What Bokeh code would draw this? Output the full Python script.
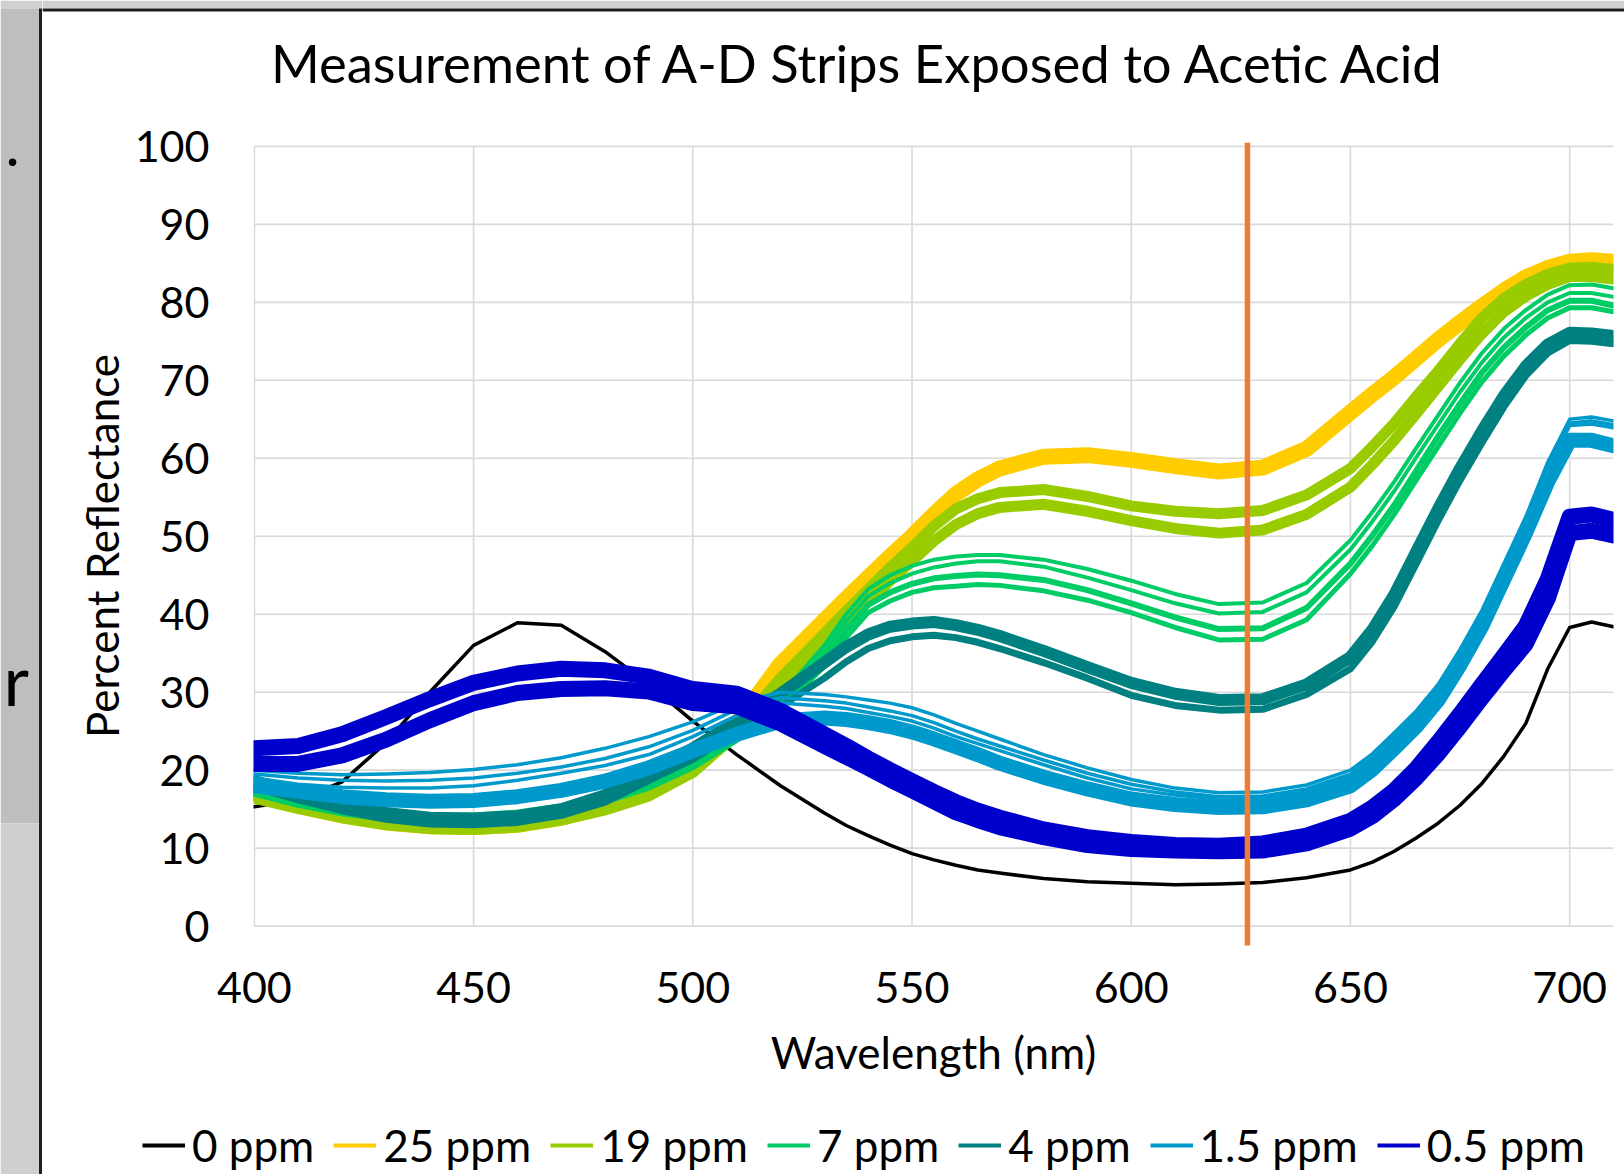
from bokeh.plotting import figure
from bokeh.models import Range1d, FixedTicker, Legend, LegendItem
from bokeh.layouts import row, column
from bokeh.embed import file_html
from bokeh.resources import INLINE
from bokeh.core.properties import value

# ---------------- data ----------------
wavelength = [400, 410, 420, 430, 440, 450, 460, 470, 480, 490, 500, 510, 520, 530,
              535, 540, 545, 550, 555, 560, 565, 570,
              580, 590, 600, 610, 620, 630, 640, 650,
              655, 660, 665, 670, 675, 680, 685, 690,
              695, 700, 705, 710]

x_ticks = [400, 450, 500, 550, 600, 650, 700]
y_ticks = [0, 10, 20, 30, 40, 50, 60, 70, 80, 90, 100]
marker_nm = 626.5

title_text = "Measurement of A-D Strips Exposed to Acetic Acid"
labels = ["0 ppm", "25 ppm", "19 ppm", "7 ppm", "4 ppm", "1.5 ppm", "0.5 ppm"]
colors = ["#000000", "#FFCC00", "#99CC00", "#00CC66", "#008080", "#0099CC", "#0000CC"]

ppm0 = [15.3, 16.2, 18.5, 23.5, 30.0, 36.0, 38.9, 38.6, 35.2, 31.0, 26.3, 22.0, 18.0, 14.5,
        12.9, 11.6, 10.4, 9.3, 8.5, 7.8, 7.2, 6.8,
        6.1, 5.7, 5.5, 5.3, 5.4, 5.6, 6.2, 7.2,
        8.2, 9.6, 11.3, 13.2, 15.5, 18.3, 21.8, 26.0,
        33.0, 38.3, 39.0, 38.4]

ppm25 = [16.8, 15.4, 14.2, 13.3, 12.8, 12.7, 13.0, 13.9, 15.3, 17.2, 20.3, 26.0, 33.6, 39.2,
         42.0, 44.7, 47.4, 50.0, 52.8, 55.4, 57.3, 58.7,
         60.2, 60.4, 59.8, 59.0, 58.3, 58.8, 61.2, 65.9,
         68.2, 70.4, 72.8, 75.2, 77.4, 79.5, 81.5, 83.2,
         84.4, 85.2, 85.4, 85.2]

ppm19_a = [16.7, 15.4, 14.2, 13.3, 12.8, 12.7, 13.0, 13.9, 15.2, 17.1, 20.2, 25.3, 31.8, 37.5,
           40.4, 43.2, 46.0, 48.6, 51.3, 53.5, 54.8, 55.6,
           56.0, 55.1, 53.9, 53.2, 52.9, 53.3, 55.3, 58.7,
           61.5, 64.5, 67.9, 71.2, 74.7, 78.0, 80.5, 82.3,
           83.6, 84.4, 84.5, 84.2]
ppm19_b = [16.4, 15.1, 13.9, 13.0, 12.5, 12.4, 12.7, 13.6, 14.9, 16.7, 19.7, 24.6, 30.8, 36.3,
           39.0, 41.6, 44.3, 46.8, 49.4, 51.5, 52.9, 53.7,
           54.1, 53.2, 52.0, 51.0, 50.4, 50.8, 52.8, 56.3,
           59.2, 62.3, 65.7, 69.2, 72.7, 76.0, 78.8, 80.8,
           82.3, 83.3, 83.3, 83.0]

ppm7_a = [17.8, 16.4, 15.3, 14.6, 14.3, 14.3, 14.7, 15.5, 16.8, 18.6, 21.2, 25.0, 29.5, 36.0,
          40.0, 43.2, 45.0, 46.2, 47.0, 47.4, 47.6, 47.6,
          47.0, 45.8, 44.3, 42.6, 41.3, 41.5, 44.0, 49.5,
          53.1, 57.0, 61.3, 65.5, 69.7, 73.5, 76.6, 79.0,
          81.0, 82.2, 82.3, 81.8]
ppm7_b = [17.5, 16.1, 15.0, 14.3, 14.0, 14.0, 14.4, 15.2, 16.5, 18.3, 20.9, 24.6, 28.9, 35.2,
          39.1, 42.3, 44.0, 45.2, 46.0, 46.5, 46.8, 46.8,
          46.1, 44.7, 43.1, 41.4, 40.1, 40.3, 42.8, 48.3,
          51.9, 55.8, 60.1, 64.3, 68.5, 72.3, 75.5, 78.0,
          80.0, 81.2, 81.2, 80.7]
ppm7_c = [17.2, 15.8, 14.7, 14.0, 13.7, 13.7, 14.1, 14.9, 16.2, 18.0, 20.6, 24.2, 28.3, 34.3,
          38.0, 41.2, 42.8, 43.9, 44.6, 44.9, 45.1, 45.0,
          44.4, 43.1, 41.4, 39.6, 38.1, 38.2, 40.8, 46.5,
          50.1, 54.0, 58.4, 62.8, 67.0, 71.0, 74.2, 76.8,
          79.0, 80.2, 80.2, 79.6]
ppm7_d = [16.9, 15.5, 14.4, 13.7, 13.4, 13.4, 13.8, 14.6, 15.9, 17.7, 20.3, 23.8, 27.8, 33.3,
          37.0, 40.2, 41.7, 42.8, 43.4, 43.6, 43.8, 43.7,
          43.0, 41.8, 40.2, 38.3, 36.7, 36.8, 39.3, 45.2,
          48.8, 52.8, 57.2, 61.5, 65.8, 69.8, 73.1, 75.8,
          78.0, 79.3, 79.3, 78.8]

ppm4_a = [18.6, 17.0, 15.6, 14.5, 13.9, 13.8, 14.1, 15.0, 16.8, 19.8, 22.8, 26.3, 29.8, 33.8,
          35.8, 37.4, 38.4, 38.8, 39.0, 38.6, 38.0, 37.2,
          35.3, 33.2, 31.2, 29.8, 29.0, 29.1, 31.0, 34.5,
          38.0, 42.5, 48.0, 53.5, 58.7, 63.5, 68.0, 71.8,
          74.6, 76.1, 76.0, 75.7]
ppm4_b = [17.8, 16.2, 14.8, 13.7, 13.1, 13.0, 13.3, 14.2, 15.9, 18.7, 21.4, 25.0, 28.2, 31.8,
          33.9, 35.6, 36.6, 37.1, 37.3, 37.0, 36.4, 35.6,
          33.8, 31.8, 29.6, 28.3, 27.7, 27.8, 29.7, 33.0,
          36.5, 41.0, 46.5, 52.0, 57.2, 62.0, 66.6, 70.6,
          73.5, 75.1, 75.0, 74.7]

ppm1_5_t1 = [20.0, 19.6, 19.4, 19.5, 19.7, 20.1, 20.7, 21.6, 22.8, 24.3, 26.2, 28.6, 30.0, 29.7,
             29.4, 29.0, 28.6, 28.0, 27.1, 26.0, 25.0, 24.0,
             22.0, 20.3, 18.8, 17.7, 17.1, 17.2, 18.1, 20.0,
             22.1, 24.8, 27.6, 31.0, 35.5, 40.5, 46.5, 52.5,
             59.5, 65.0, 65.3, 64.8]
ppm1_5_t2 = [19.5, 19.0, 18.7, 18.6, 18.7, 19.0, 19.6, 20.4, 21.5, 23.0, 25.1, 27.8, 29.3, 28.9,
             28.6, 28.1, 27.6, 27.0, 26.1, 25.0, 24.0, 23.1,
             21.3, 19.6, 18.2, 17.2, 16.6, 16.7, 17.6, 19.5,
             21.6, 24.3, 27.1, 30.5, 35.0, 40.0, 46.0, 52.0,
             59.0, 64.5, 64.8, 64.3]
ppm1_5_t3 = [19.0, 18.2, 17.8, 17.7, 17.7, 18.0, 18.7, 19.6, 20.6, 22.0, 24.3, 27.0, 28.6, 28.2,
             27.9, 27.4, 26.9, 26.3, 25.4, 24.3, 23.4, 22.5,
             20.7, 19.0, 17.6, 16.8, 16.3, 16.4, 17.3, 19.2,
             21.3, 24.0, 26.8, 30.2, 34.7, 39.7, 45.7, 51.7,
             58.7, 64.2, 64.4, 63.9]
ppm1_5_main = [18.0, 17.3, 16.6, 16.2, 16.0, 16.1, 16.6, 17.4, 18.6, 20.3, 22.5, 24.6, 26.3, 26.7,
               26.5, 26.1, 25.6, 24.9, 24.0, 23.0, 22.0, 20.9,
               19.1, 17.6, 16.3, 15.6, 15.2, 15.3, 16.2, 18.0,
               20.1, 22.8, 25.6, 29.0, 33.5, 38.5, 44.5, 50.5,
               57.0, 62.3, 62.3, 61.6]

ppm0_5_a = [22.8, 23.1, 24.6, 26.8, 29.1, 31.2, 32.4, 33.0, 32.8, 32.0, 30.4, 29.8, 27.6, 24.6,
            23.1, 21.5, 20.0, 18.6, 17.2, 15.9, 14.8, 13.9,
            12.4, 11.4, 10.8, 10.4, 10.3, 10.6, 11.6, 13.5,
            15.2, 17.4, 20.2, 23.6, 27.2, 31.0, 34.7, 38.5,
            44.5, 52.5, 52.8, 52.1]
ppm0_5_b = [20.8, 20.8, 21.9, 23.9, 26.4, 28.6, 29.9, 30.4, 30.5, 30.1, 28.6, 28.2, 26.0, 23.1,
            21.7, 20.3, 18.8, 17.4, 16.0, 14.6, 13.6, 12.7,
            11.4, 10.4, 9.9, 9.7, 9.6, 9.7, 10.6, 12.5,
            14.1, 16.3, 19.0, 22.1, 25.6, 29.3, 32.8, 36.2,
            42.0, 50.4, 50.7, 50.1]

# group -> strands (value list, stroke width in px)
groups = [
    [(ppm0, 3.5)],
    [(ppm25, 16)],
    [(ppm19_a, 11), (ppm19_b, 11)],
    [(ppm7_a, 4), (ppm7_b, 4), (ppm7_c, 6), (ppm7_d, 5)],
    [(ppm4_a, 12), (ppm4_b, 7)],
    [(ppm1_5_t1, 3.5), (ppm1_5_t2, 3.5), (ppm1_5_t3, 3.5), (ppm1_5_main, 15)],
    [(ppm0_5_a, 16), (ppm0_5_b, 16)],
]

FONT = "Lato"
PAGE_W, PAGE_H = 1624, 1174
STRIP_W = 42
MAIN_W = PAGE_W - STRIP_W
HEAD_H = 100
LEG_H = 75
MAIN_H = PAGE_H - HEAD_H - LEG_H
FRAME_TOP = 142          # page y of the top of the plotting frame


def bare(fig):
    fig.grid.visible = False
    fig.outline_line_color = None
    fig.background_fill_color = "white"
    fig.border_fill_color = "white"
    fig.frame_align = False
    return fig


# ---------------- left strip (document background behind the chart) ----------------
strip = bare(figure(width=STRIP_W, height=PAGE_H, x_range=Range1d(0, STRIP_W), y_range=Range1d(PAGE_H, 0),
                    x_axis_location=None, y_axis_location=None,
                    output_backend="svg", toolbar_location=None, min_border=0))
strip.quad(left=[0], right=[STRIP_W], top=[0], bottom=[8], fill_color="#d0d0d0", line_color=None)
strip.quad(left=[0], right=[38.5], top=[8], bottom=[823], fill_color="#bebebd", line_color=None)
strip.quad(left=[0], right=[38.5], top=[823], bottom=[PAGE_H], fill_color="#d0cfcf", line_color=None)
strip.quad(left=[38.5], right=[41.5], top=[8], bottom=[PAGE_H], fill_color="#1e1e1e", line_color=None)
strip.text(x=[5], y=[144], text=["."], text_font=value(FONT), text_font_size="60px",
           text_baseline="alphabetic", text_color="black")
strip.text(x=[3], y=[678], text=["r"], text_font=value(FONT), text_font_size="70px",
           text_baseline="alphabetic", text_color="black")

# ---------------- header: border line + chart title ----------------
head = bare(figure(width=MAIN_W, height=HEAD_H, x_range=Range1d(0, MAIN_W), y_range=Range1d(HEAD_H, 0),
                   x_axis_location=None, y_axis_location=None,
                   output_backend="svg", toolbar_location=None, min_border=0))
head.quad(left=[0], right=[MAIN_W], top=[0], bottom=[8], fill_color="#d0d0d0", line_color=None)
head.quad(left=[0], right=[MAIN_W], top=[8], bottom=[11], fill_color="#1e1e1e", line_color=None)
head.text(x=[817], y=[62], text=[title_text], text_font=value(FONT), text_font_size="52.6px",
          text_align="center", text_baseline="middle", text_color="black")

# ---------------- main chart ----------------
p = bare(figure(frame_width=1360, frame_height=807,
                x_range=Range1d(399.8, 710), y_range=Range1d(-3, 100.5),
                min_border_left=211, min_border_right=11, min_border_top=FRAME_TOP - HEAD_H,
                min_border_bottom=MAIN_H - (FRAME_TOP - HEAD_H) - 807,
                output_backend="svg", toolbar_location=None))

# gridlines, drawn only across the 0..100 / 400..710 region
p.segment(x0=x_ticks, y0=[0] * len(x_ticks), x1=x_ticks, y1=[100] * len(x_ticks),
          line_color="#d9d9d9", line_width=1.6)
p.segment(x0=[400] * len(y_ticks), y0=y_ticks, x1=[710] * len(y_ticks), y1=y_ticks,
          line_color="#d9d9d9", line_width=1.6)

for strands, col in zip(groups, colors):
    for vals, w in strands:
        p.line(wavelength, vals, line_color=col, line_width=w, line_join="round", line_cap="round")

p.segment(x0=[marker_nm], y0=[-2.5], x1=[marker_nm], y1=[100.5], line_color="#ED7D31", line_width=5.5)

# axes
p.xaxis.ticker = FixedTicker(ticks=x_ticks)
p.yaxis.ticker = FixedTicker(ticks=y_ticks)
for ax in (p.xaxis[0], p.yaxis[0]):
    ax.axis_line_color = None
    ax.major_tick_line_color = None
    ax.minor_tick_line_color = None
    ax.major_label_text_font = FONT
    ax.major_label_text_font_size = "43px"
    ax.major_label_text_color = "black"
    ax.axis_label_text_font = FONT
    ax.axis_label_text_font_size = "44px"
    ax.axis_label_text_font_style = "normal"
    ax.axis_label_text_color = "black"
p.xaxis.axis_label = "Wavelength (nm)"
p.yaxis.axis_label = "Percent Reflectance"
p.xaxis.major_label_standoff = 16
p.xaxis.axis_label_standoff = 20
p.yaxis.major_label_standoff = 38
p.yaxis.axis_label_standoff = 4

# ---------------- legend strip under the chart ----------------
leg = bare(figure(width=MAIN_W, height=LEG_H, x_range=Range1d(0, 1), y_range=Range1d(0, 1),
                  x_axis_location=None, y_axis_location=None,
                  output_backend="svg", toolbar_location=None, min_border=0))
items = []
for lab, col in zip(labels, colors):
    # sample line kept outside the visible range; only its legend swatch shows
    r = leg.line([-2, -1], [-2, -1], line_color=col, line_width=4)
    items.append(LegendItem(label=lab, renderers=[r]))
legend = Legend(items=items, orientation="horizontal", location=(100, 3),
                label_text_font=FONT, label_text_font_size="44px", label_text_color="black",
                glyph_width=43, glyph_height=20, label_standoff=7, spacing=19,
                padding=0, margin=0, border_line_color=None, background_fill_alpha=0)
leg.add_layout(legend, "center")

layout = row(strip, column(head, p, leg, spacing=0), spacing=0)

open("out.html", "w").write(file_html(layout, INLINE))
